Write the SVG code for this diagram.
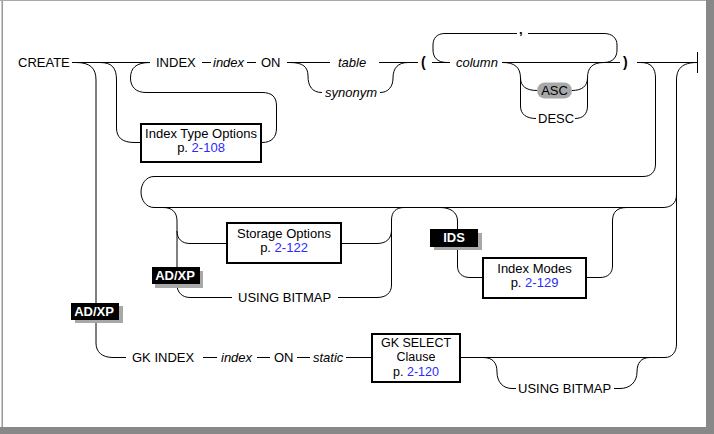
<svg xmlns="http://www.w3.org/2000/svg" width="714" height="434" viewBox="0 0 714 434">
<style>
text{font-family:"Liberation Sans",Arial,sans-serif;font-size:13px;fill:#000}
.i{font-style:italic}
.m{text-anchor:middle}
.b{font-weight:bold}
.w{fill:#fff;font-weight:bold;text-anchor:middle}
.lk{fill:#2a2aff}
.c path{fill:none;stroke:#000;stroke-width:1}
.box{fill:#fff;stroke:#000;stroke-width:2}
.bd{fill:#000}
.sh{fill:#a8a8a8}
.s{font-size:12.5px}
</style>
<rect x="0" y="0" width="714" height="434" fill="#fff"/>
<g id="frame">
<line x1="1.5" y1="0" x2="1.5" y2="427" stroke="#c8c8c8"/>
<line x1="2.5" y1="0" x2="2.5" y2="427" stroke="#999"/>
<line x1="0" y1="0.5" x2="706" y2="0.5" stroke="#aaa"/>
<rect x="706" y="0" width="8" height="434" fill="#888"/>
<rect x="0" y="427" width="714" height="7" fill="#888"/>
</g>
<g id="connectors" class="c">
<path d="M72,62.5 H150"/>
<path d="M76,62.5 C90,62.5 96,68 96,80 V343 C96,352 102,357.5 113,357.5 H126"/>
<path d="M100,62.5 C112,62.5 116.5,68 116.5,80 V128 C116.5,137 122,142.5 134,142.5 H140"/>
<path d="M262,142.5 C272,142.5 276.5,137 276.5,128 V106 C276.5,97 272,92.5 262,92.5 H146 C136,92.5 130.5,87 130.5,78 C130.5,68 136,62.5 150,62.5"/>
<path d="M202,62.5 H211 M247,62.5 H256 M287,62.5 H330"/>
<path d="M290,62.5 C303,62.5 308,67 308,76 C308,86 312,92.5 322,92.5"/>
<path d="M380,92.5 C388,92.5 393,87 393,78 C393,68 398,62.5 408,62.5"/>
<path d="M379,62.5 H418 M432,62.5 H450"/>
<path d="M447,62.5 C437,62.5 433,57 433,50 V45 C433,38 437,33.5 445,33.5 H517 M528,33.5 H604 C612,33.5 617,38 617,45 V50 C617,57 613,62.5 604,62.5"/>
<path d="M502,62.5 H620"/>
<path d="M503,62.5 C514,62.5 520.5,67 520.5,78 V106 C520.5,114 526,118.5 536,118.5 M520.5,78 C520.5,86 526,90.5 537,90.5"/>
<path d="M572,90.5 C582,90.5 587.5,86 587.5,78 M575,118.5 C583,118.5 587.5,114 587.5,106 V78 C587.5,68 592,62.5 604,62.5"/>
<path d="M637,62.5 H697.5 M697.5,52 V73"/>
<path d="M641,62.5 C651,62.5 655.5,68 655.5,78 V164 C655.5,172 651,176.5 643,176.5 H154 C146,176.5 141,184 141,192 C141,200 146,207.5 154,207.5 H663 C671,207.5 676.5,203 676.5,195"/>
<path d="M665,357.5 C672,357.5 676.5,352 676.5,344 V80 C676.5,69 682,62.5 697,62.5"/>
<path d="M163,207.5 C172,207.5 177,212 177,221 V285 C177,292 182,297.5 190,297.5 H232 M177,231 C177,239 182,243.5 190,243.5 H226"/>
<path d="M342,243.5 H377 C386,243.5 391.5,239 391.5,230 M338,297.5 H377 C386,297.5 391.5,293 391.5,285 V220 C391.5,212 396,207.5 404,207.5"/>
<path d="M440,207.5 C450,207.5 457.5,212 457.5,221 V266 C457.5,273 462,277.5 470,277.5 H482 M587,277.5 H600 C608,277.5 612.5,273 612.5,266 V221 C612.5,212 617,207.5 627,207.5"/>
<path d="M203,357.5 H217 M257,357.5 H270 M297,357.5 H310 M346,357.5 H371 M461,357.5 H665"/>
<path d="M483,357.5 C493,357.5 497,363 497,372 C497,382 503,388.5 512,388.5 H516 M614,388.5 H620 C630,388.5 637,382 637,372 C637,363 641,357.5 650,357.5"/>
</g>
<g id="create"><text x="18" y="67">CREATE</text></g>
<g id="index-kw"><text x="156" y="67">INDEX</text></g>
<g id="index-name"><text class="i" x="213" y="67">index</text></g>
<g id="on"><text x="261" y="67">ON</text></g>
<g id="table"><text class="i" x="338" y="67">table</text></g>
<g id="synonym"><text class="i" x="325" y="97">synonym</text></g>
<g id="lparen"><text class="b" x="421" y="67" style="font-size:14px">(</text></g>
<g id="column"><text class="i" x="456" y="67">column</text></g>
<g id="comma"><text class="b" x="519" y="34">,</text></g>
<g id="asc"><rect x="537" y="82.5" width="35" height="16" rx="8" fill="#a8a8a8"/><text class="m" x="554.5" y="95">ASC</text></g>
<g id="desc"><text x="538" y="123">DESC</text></g>
<g id="rparen"><text class="b" x="623" y="67" style="font-size:14px">)</text></g>
<g id="index-type-options"><rect class="box" x="141" y="124" width="120" height="38"/><text class="m" x="201" y="138">Index Type Options</text><text class="m" x="201" y="152">p. <tspan class="lk">2-108</tspan></text></g>
<g id="storage-options"><rect class="box" x="227" y="223" width="114" height="40"/><text class="m" x="284" y="238">Storage Options</text><text class="m" x="284" y="252">p. <tspan class="lk">2-122</tspan></text></g>
<g id="using-bitmap-1"><text x="238" y="302">USING BITMAP</text></g>
<g id="badge-adxp-1"><rect class="sh" x="155" y="271" width="48" height="17"/><rect class="bd" x="152" y="267" width="48" height="17"/><text class="w" x="175" y="280">AD/XP</text></g>
<g id="badge-ids"><rect class="sh" x="434" y="233" width="48" height="17"/><rect class="bd" x="430" y="229" width="48" height="18"/><text class="w" x="454" y="242">IDS</text></g>
<g id="index-modes"><rect class="box" x="483" y="258" width="103" height="40"/><text class="m" x="534.5" y="273">Index Modes</text><text class="m" x="534.5" y="287">p. <tspan class="lk">2-129</tspan></text></g>
<g id="badge-adxp-2"><rect class="sh" x="75" y="306" width="48" height="17"/><rect class="bd" x="71" y="303" width="48" height="17"/><text class="w" x="94" y="316">AD/XP</text></g>
<g id="gk-index"><text x="132" y="362">GK INDEX</text></g>
<g id="gk-index-name"><text class="i" x="221" y="362">index</text></g>
<g id="gk-on"><text x="274" y="362">ON</text></g>
<g id="static"><text class="i" x="313" y="362">static</text></g>
<g id="gk-select"><rect class="box" x="372" y="334" width="88" height="48"/><text class="m s" x="416" y="346.5">GK SELECT</text><text class="m s" x="416" y="361">Clause</text><text class="m s" x="416" y="375.5">p. <tspan class="lk">2-120</tspan></text></g>
<g id="using-bitmap-2"><text x="518" y="393">USING BITMAP</text></g>
</svg>
